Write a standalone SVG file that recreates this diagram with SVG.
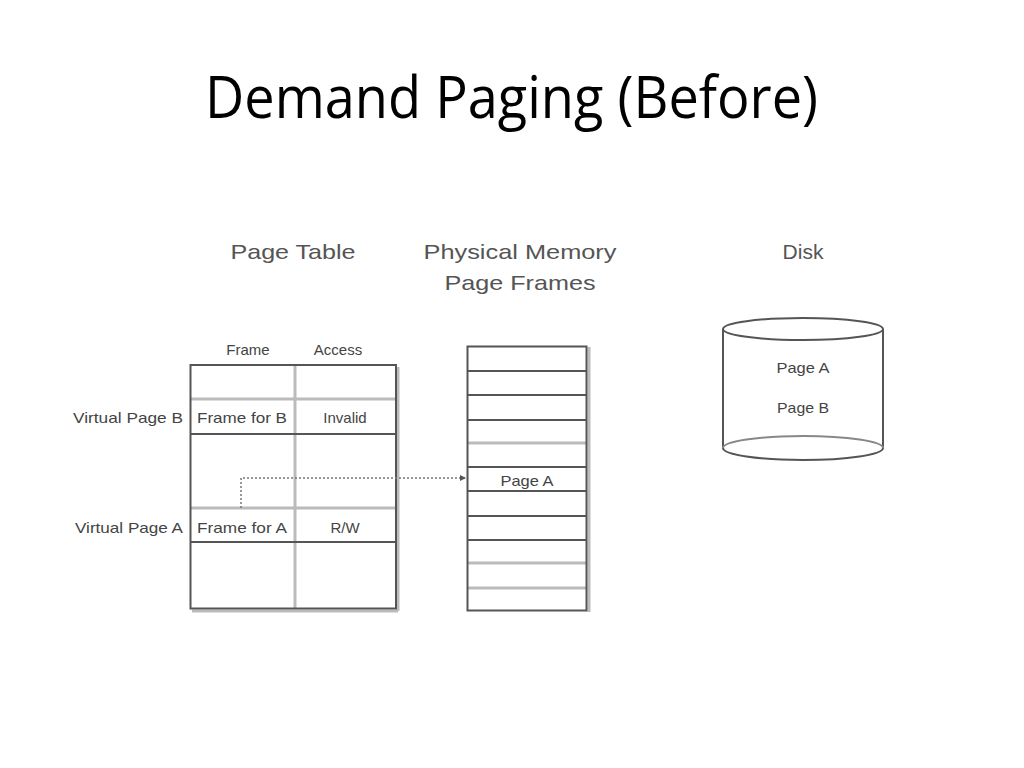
<svg xmlns="http://www.w3.org/2000/svg" width="1024" height="768" viewBox="0 0 1024 768">
<style>
.title{font-family:"Open Sans","Liberation Sans",sans-serif;font-size:58px;fill:#000}
.hdr{font-family:"Liberation Sans",Arial,sans-serif;font-size:21px;fill:#555;text-anchor:middle}
.t{font-family:"Liberation Sans",Arial,sans-serif;font-size:15px;fill:#444;text-anchor:middle}
.tr{font-family:"Liberation Sans",Arial,sans-serif;font-size:15px;fill:#444;text-anchor:end}
.dk{stroke:#555;stroke-width:2;fill:none}
.lt{stroke:#bbb;stroke-width:3;fill:none}
</style>
<defs>
<marker id="ah" markerWidth="6" markerHeight="6" refX="5" refY="3" orient="auto" markerUnits="userSpaceOnUse">
<path d="M0,0 L6,3 L0,6 Z" fill="#555"/>
</marker>
</defs>
<rect width="1024" height="768" fill="#fff"/>
<text class="title" x="205" y="118" textLength="613" lengthAdjust="spacingAndGlyphs">Demand Paging (Before)</text>

<g id="page-table">
<text class="hdr" x="293" y="259" textLength="125" lengthAdjust="spacingAndGlyphs">Page Table</text>
<text class="t" x="248" y="355">Frame</text>
<text class="t" x="338" y="355">Access</text>
<line class="lt" x1="190" y1="399" x2="396" y2="399"/>
<line class="lt" x1="190" y1="508" x2="396" y2="508"/>
<line class="lt" x1="295" y1="365" x2="295" y2="609"/>
<line class="lt" x1="192" y1="611" x2="398" y2="611"/>
<line class="lt" x1="398" y1="367" x2="398" y2="611"/>
<line class="dk" x1="190" y1="434" x2="396" y2="434"/>
<line class="dk" x1="190" y1="542" x2="396" y2="542"/>
<rect class="dk" x="190.5" y="365" width="205.5" height="243.5"/>
<text class="tr" x="183" y="423" textLength="110" lengthAdjust="spacingAndGlyphs">Virtual Page B</text>
<text class="t" x="242" y="423" textLength="90" lengthAdjust="spacingAndGlyphs">Frame for B</text>
<text class="t" x="345" y="423">Invalid</text>
<text class="tr" x="183" y="533" textLength="108" lengthAdjust="spacingAndGlyphs">Virtual Page A</text>
<text class="t" x="242" y="533" textLength="90" lengthAdjust="spacingAndGlyphs">Frame for A</text>
<text class="t" x="345" y="533">R/W</text>
</g>

<g id="physical-memory">
<text class="hdr" x="520" y="259" textLength="193" lengthAdjust="spacingAndGlyphs">Physical Memory</text>
<text class="hdr" x="520" y="290" textLength="151" lengthAdjust="spacingAndGlyphs">Page Frames</text>
<line class="lt" x1="589" y1="347" x2="589" y2="612"/>
<line class="lt" x1="467" y1="443" x2="587" y2="443"/>
<line class="lt" x1="467" y1="563" x2="587" y2="563"/>
<line class="lt" x1="467" y1="588" x2="587" y2="588"/>
<line class="dk" x1="467" y1="371" x2="587" y2="371"/>
<line class="dk" x1="467" y1="395" x2="587" y2="395"/>
<line class="dk" x1="467" y1="420" x2="587" y2="420"/>
<line class="dk" x1="467" y1="467" x2="587" y2="467"/>
<line class="dk" x1="467" y1="491" x2="587" y2="491"/>
<line class="dk" x1="467" y1="516" x2="587" y2="516"/>
<line class="dk" x1="467" y1="540" x2="587" y2="540"/>
<rect class="dk" x="467.5" y="346.5" width="119" height="264"/>
<text class="t" x="527" y="486" textLength="53" lengthAdjust="spacingAndGlyphs">Page A</text>
</g>

<g id="disk">
<text class="hdr" x="803" y="259">Disk</text>
<path d="M723,329 L723,448 A80,12 0 0 0 883,448 L883,329" fill="#fff" stroke="#555" stroke-width="2"/>
<ellipse cx="803" cy="329" rx="80" ry="11" fill="#fff" stroke="#555" stroke-width="2"/>
<path d="M723,448 A80,12 0 0 1 883,448" fill="none" stroke="#888" stroke-width="2"/>
<text class="t" x="803" y="373" textLength="53" lengthAdjust="spacingAndGlyphs">Page A</text>
<text class="t" x="803" y="413" textLength="52" lengthAdjust="spacingAndGlyphs">Page B</text>
</g>

<g id="connectors">
<path d="M241,508 L241,478 L465,478" fill="none" stroke="#777" stroke-width="1.5" stroke-dasharray="2,2" marker-end="url(#ah)"/>
</g>
</svg>
